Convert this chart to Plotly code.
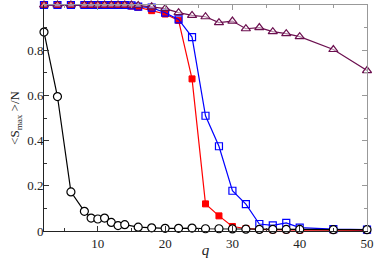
import plotly.graph_objects as go

x_black = [2, 4, 6, 8, 9, 10, 11, 12, 13, 14, 16, 18, 20, 22, 24, 26, 28, 30, 32, 34, 36, 38, 40, 45, 50]
y_black = [0.88, 0.595, 0.173, 0.087, 0.057, 0.053, 0.057, 0.038, 0.024, 0.028, 0.017, 0.014, 0.012,
           0.012, 0.013, 0.010, 0.010, 0.009, 0.008, 0.007, 0.007, 0.007, 0.007, 0.006, 0.006]

x_q = [2, 4, 6, 8, 9, 10, 11, 12, 13, 14, 15, 16, 18, 20, 22, 24, 26, 28, 30, 32, 34, 36, 38, 40, 45, 50]
y_red = [1, 1, 1, 1, 1, 1, 1, 1, 1, 1, 0.995, 0.99, 0.975, 0.96, 0.932, 0.673, 0.12, 0.067, 0.02,
         0.011, 0.007, 0.005, 0.005, 0.004, 0.004, 0.003]
y_blue = [1, 1, 1, 1, 1, 1, 1, 1, 1, 1, 0.998, 0.993, 0.988, 0.966, 0.936, 0.858, 0.51, 0.375, 0.178,
          0.119, 0.031, 0.025, 0.036, 0.015, 0.008, 0.006]
y_purple = [1, 1, 1, 1, 1, 1, 1, 1, 1, 1, 1, 0.998, 0.992, 0.984, 0.966, 0.954, 0.948, 0.922, 0.929,
            0.895, 0.9, 0.882, 0.873, 0.86, 0.803, 0.71]

x_tickvals = [10, 20, 30, 40, 50]
x_minor = [5, 15, 25, 35, 45]
y_tickvals = [0, 0.2, 0.4, 0.6, 0.8, 1]
y_ticktext = ["0", "0.2", "0.4", "0.6", "0.8", "1"]
y_minor = [0.1, 0.3, 0.5, 0.7, 0.9]

serif = "'Liberation Serif', 'Times New Roman', 'DejaVu Serif', serif"
ink = "#222222"
fig = go.Figure()

fig.add_trace(go.Scatter(x=x_q, y=y_red, mode="lines+markers", cliponaxis=False,
                         line=dict(color="#ff0000", width=1.2),
                         marker=dict(symbol="square", size=6, color="#ff0000",
                                     line=dict(color="#ff0000", width=1))))
fig.add_trace(go.Scatter(x=x_q, y=y_blue, mode="lines+markers", cliponaxis=False,
                         line=dict(color="#0000ff", width=1.2),
                         marker=dict(symbol="square-open", size=7, color="#0000ff",
                                     line=dict(color="#0000ff", width=1.2))))
fig.add_trace(go.Scatter(x=x_q, y=y_purple, mode="lines+markers", cliponaxis=False,
                         line=dict(color="#6b0f4f", width=1.2),
                         marker=dict(symbol="triangle-up", size=8, color="rgba(255,255,255,0.5)",
                                     line=dict(color="#6b0f4f", width=1.2))))
fig.add_trace(go.Scatter(x=x_black, y=y_black, mode="lines+markers", cliponaxis=False,
                         line=dict(color="#000000", width=1.2),
                         marker=dict(symbol="circle", size=8, color="white",
                                     line=dict(color="#000000", width=1.2))))
# grey frame on top/right via secondary axes
fig.add_trace(go.Scatter(x=x_q, y=y_purple, xaxis="x2", yaxis="y2", mode="none",
                         hoverinfo="skip", showlegend=False))

fig.update_layout(
    width=374, height=258,
    margin=dict(l=44, r=7, t=5, b=27, autoexpand=False),
    paper_bgcolor="white", plot_bgcolor="white",
    showlegend=False,
    font=dict(family=serif, size=12, color=ink),
    xaxis=dict(range=[2, 50], tickvals=x_tickvals, ticks="inside", ticklen=5, tickcolor="#333333",
               showline=True, linecolor=ink, linewidth=1, showgrid=False, zeroline=False,
               minor=dict(tickvals=x_minor, ticks="inside", ticklen=3, tickcolor="#333333"),
               tickfont=dict(family=serif, size=13, color=ink), automargin=False,
               title=dict(text="<i>q</i>", font=dict(family=serif, size=15, color=ink), standoff=2)),
    yaxis=dict(range=[0, 1], tickvals=y_tickvals, ticktext=y_ticktext, ticks="inside", ticklen=5,
               tickcolor="#333333", showline=True, linecolor=ink, linewidth=1, showgrid=False,
               zeroline=False, automargin=False, ticklabelstandoff=-3,
               minor=dict(tickvals=y_minor, ticks="inside", ticklen=3, tickcolor="#333333"),
               tickfont=dict(family=serif, size=13, color=ink),
               title=dict(text="<S<sub>max</sub> >/N", font=dict(family=serif, size=13, color=ink),
                          standoff=4)),
    xaxis2=dict(overlaying="x", side="top", range=[2, 50], tickvals=x_tickvals, ticks="inside", ticklen=5,
                tickcolor="#999999", showline=True, linecolor="#999999", linewidth=1, showgrid=False,
                showticklabels=False, zeroline=False, automargin=False,
                minor=dict(tickvals=x_minor, ticks="inside", ticklen=3, tickcolor="#999999")),
    yaxis2=dict(overlaying="y", side="right", range=[0, 1], tickvals=y_tickvals, ticks="inside", ticklen=5,
                tickcolor="#999999", showline=True, linecolor="#999999", linewidth=1, showgrid=False,
                showticklabels=False, zeroline=False, automargin=False,
                minor=dict(tickvals=y_minor, ticks="inside", ticklen=3, tickcolor="#999999")),
)

fig.write_html("out.html", config={"displayModeBar": False},
               post_script="document.body.style.margin='0';")
